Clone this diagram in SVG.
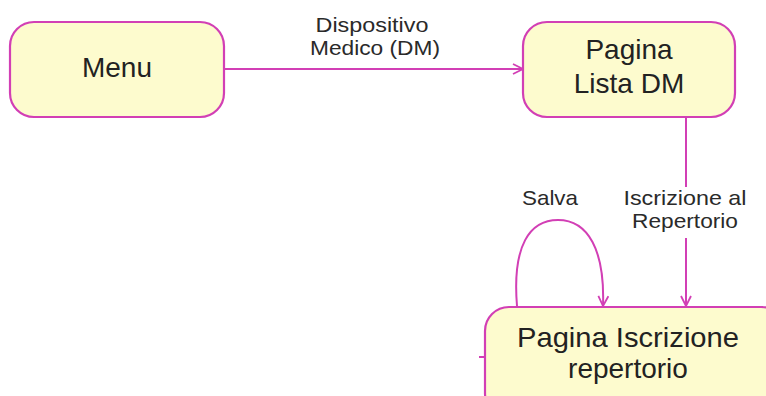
<svg xmlns="http://www.w3.org/2000/svg" width="766" height="396" viewBox="0 0 766 396">
<defs>
<style>
.node{fill:#fdfbce;stroke:#d23fb5;stroke-width:2.2}
.big{font-family:"Liberation Sans",Arial,sans-serif;font-size:28px;fill:#222;text-anchor:middle}
.lbl{font-family:"Liberation Sans",Arial,sans-serif;font-size:21px;fill:#2a2a2a;text-anchor:middle}
.edge{fill:none;stroke:#d23fb5;stroke-width:2}
</style>
<marker id="arr" viewBox="0 0 12 12" refX="11" refY="6" markerWidth="12" markerHeight="12" markerUnits="userSpaceOnUse" orient="auto">
<path d="M1,1 L11,6 L1,11" fill="none" stroke="#d23fb5" stroke-width="1.8"/>
</marker>
</defs>
<rect width="766" height="396" fill="#fff"/>
<g id="connectors">
<path class="edge" d="M224,69 L523,69" marker-end="url(#arr)"/>
<path class="edge" d="M686,118 L686,187"/>
<path class="edge" d="M686,238 L686,306" marker-end="url(#arr)"/>
<path class="edge" d="M517,306 C512,245 530,220 558,220 C588,220 605,250 603,306" marker-end="url(#arr)"/>
<path class="edge" d="M479,357 L486,357"/>
<text class="lbl" x="372" y="32" textLength="113" lengthAdjust="spacingAndGlyphs">Dispositivo</text>
<text class="lbl" x="375" y="55" textLength="130" lengthAdjust="spacingAndGlyphs">Medico (DM)</text>
<text class="lbl" x="685" y="205" textLength="123" lengthAdjust="spacingAndGlyphs">Iscrizione al</text>
<text class="lbl" x="685" y="228" textLength="106" lengthAdjust="spacingAndGlyphs">Repertorio</text>
<text class="lbl" x="550" y="205" textLength="56" lengthAdjust="spacingAndGlyphs">Salva</text>
</g>
<g id="menu">
<rect class="node" x="10" y="22" width="214" height="95" rx="24"/>
<text class="big" x="117" y="77">Menu</text>
</g>
<g id="lista">
<rect class="node" x="523" y="22" width="212" height="95" rx="24"/>
<text class="big" x="629" y="59">Pagina</text>
<text class="big" x="629" y="93">Lista DM</text>
</g>
<g id="iscrizione">
<rect class="node" x="485" y="307" width="300" height="110" rx="24"/>
<text class="big" x="628" y="347" font-size="27" textLength="222" lengthAdjust="spacingAndGlyphs">Pagina Iscrizione</text>
<text class="big" x="628" y="378" font-size="27">repertorio</text>
</g>
</svg>
